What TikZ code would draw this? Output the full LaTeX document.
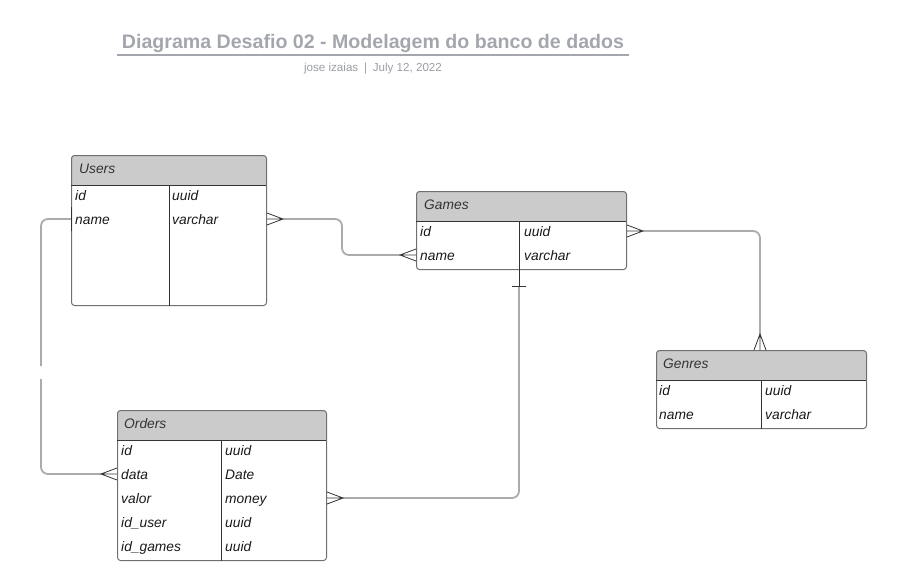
\documentclass[tikz,border=0pt]{standalone}
\usepackage{fontspec}
\setmainfont{Liberation Sans}
\usetikzlibrary{positioning}

\definecolor{titlegray}{HTML}{A3A6AC}
\definecolor{subgray}{HTML}{9A9DA3}
\definecolor{headfill}{HTML}{CBCBCB}
\definecolor{boxline}{HTML}{707070}
\definecolor{sepline}{HTML}{333333}
\definecolor{relline}{HTML}{ABABAB}
\definecolor{footline}{HTML}{333333}

\tikzset{
  entity/.style={draw=boxline, line width=1pt, rounded corners=3pt, inner sep=0pt},
  headbox/.style={fill=headfill, rounded corners=3pt, inner sep=0pt, minimum height=30},
  sep/.style={draw=sepline, line width=0.8pt},
  tabname/.style={font=\itshape\fontsize{13.8}{16}\selectfont, text=black!80, anchor=west, inner sep=0pt, text height=12, text depth=1},
  field/.style={font=\itshape\fontsize{13.8}{16}\selectfont, text=black!90, anchor=west, inner sep=0pt, text height=12, text depth=1},
  rel/.style={draw=relline, line width=1.8pt, rounded corners=7pt},
  crow/.style={draw=footline, line width=0.8pt},
}

% crow's foot: toes at #1, heel at #2, toes spread along #3
\newcommand{\crowfoot}[3]{\draw[crow] ([#3=6]#1) -- (#2) -- ([#3=-6]#1) (#1) -- (#2);}

\begin{document}
\begin{tikzpicture}[x=1pt, y=-1pt]
    \useasboundingbox (0,0) rectangle (901,581);

    % title
    \node[font=\bfseries\fontsize{19.6}{22}\selectfont, text=titlegray] (title) at (373,43.5) {Diagrama Desafio 02 - Modelagem do banco de dados};
    \draw[titlegray, line width=1.6pt] (117,55) -- (629,55);
    \node[font=\fontsize{11.6}{13}\selectfont, text=subgray] (author) at (373,69) {jose izaias\enspace|\enspace July 12, 2022};

    % Users
    \node[headbox, minimum width=195, anchor=north west] (users_h) at (71,155) {};
    \fill[headfill] ([yshift=4]users_h.south west) rectangle (users_h.south east);
    \node[entity, minimum width=195, minimum height=150, anchor=north west] (users) at (71,155) {};
    \draw[sep] (users_h.south west) -- (users_h.south east);
    \draw[sep] (users_h.south -| 169,0) -- (users.south -| 169,0);
    \node[tabname] (users_t) at (79,168) {Users};
    \node[field] at (75,195) {id};
    \node[field] at (172,195) {uuid};
    \node[field] at (75,219) {name};
    \node[field] at (172,219) {varchar};

    % Games
    \node[headbox, minimum width=210, anchor=north west] (games_h) at (416,191) {};
    \fill[headfill] ([yshift=4]games_h.south west) rectangle (games_h.south east);
    \node[entity, minimum width=210, minimum height=78, anchor=north west] (games) at (416,191) {};
    \draw[sep] (games_h.south west) -- (games_h.south east);
    \draw[sep] (games_h.south -| 519,0) -- (games.south -| 519,0);
    \node[tabname] (games_t) at (424,204) {Games};
    \node[field] at (420,231) {id};
    \node[field] at (524,231) {uuid};
    \node[field] at (420,255) {name};
    \node[field] at (524,255) {varchar};

    % Genres
    \node[headbox, minimum width=210, anchor=north west] (genres_h) at (656,350) {};
    \fill[headfill] ([yshift=4]genres_h.south west) rectangle (genres_h.south east);
    \node[entity, minimum width=210, minimum height=78, anchor=north west] (genres) at (656,350) {};
    \draw[sep] (genres_h.south west) -- (genres_h.south east);
    \draw[sep] (genres_h.south -| 761,0) -- (genres.south -| 761,0);
    \node[tabname] (genres_t) at (663,363) {Genres};
    \node[field] at (659,390) {id};
    \node[field] at (765,390) {uuid};
    \node[field] at (659,414) {name};
    \node[field] at (765,414) {varchar};

    % Orders
    \node[headbox, minimum width=209, anchor=north west] (orders_h) at (117,410) {};
    \fill[headfill] ([yshift=4]orders_h.south west) rectangle (orders_h.south east);
    \node[entity, minimum width=209, minimum height=150, anchor=north west] (orders) at (117,410) {};
    \draw[sep] (orders_h.south west) -- (orders_h.south east);
    \draw[sep] (orders_h.south -| 221,0) -- (orders.south -| 221,0);
    \node[tabname] (orders_t) at (124,423) {Orders};
    \node[field] at (121,450) {id};
    \node[field] at (225,450) {uuid};
    \node[field] at (121,474) {data};
    \node[field] at (225,474) {Date};
    \node[field] at (121,498) {valor};
    \node[field] at (225,498) {money};
    \node[field] at (121,522) {id\_user};
    \node[field] at (225,522) {uuid};
    \node[field] at (121,546) {id\_games};
    \node[field] at (225,546) {uuid};

    % connection points
    \coordinate (users_r) at (users.east |- 0,219);
    \coordinate (users_l) at (users.west |- 0,219);
    \coordinate (games_l) at (games.west |- 0,255);
    \coordinate (games_r) at (games.east |- 0,231);
    \coordinate (games_b) at (games.south -| 519,0);
    \coordinate (genres_t) at (genres.north -| 760,0);
    \coordinate (orders_l) at (orders.west |- 0,474);
    \coordinate (orders_r) at (orders.east |- 0,498);

    % Users -- Games
    \draw[rel] ([xshift=16]users_r) -- ++(59,0) |- ([xshift=-16]games_l);
    \crowfoot{users_r}{[xshift=16]users_r}{yshift}
    \crowfoot{games_l}{[xshift=-16]games_l}{yshift}

    % Games -- Genres
    \draw[rel] ([xshift=16]games_r) -| ([yshift=16]genres_t);
    \crowfoot{games_r}{[xshift=16]games_r}{yshift}
    \crowfoot{genres_t}{[yshift=16]genres_t}{xshift}

    % Games -- Orders
    \draw[rel] ([yshift=-16]games_b) |- ([xshift=16]orders_r);
    \draw[crow] (games_b) -- ([yshift=-16]games_b);
    \draw[crow] ([xshift=-7,yshift=-16]games_b) -- ([xshift=7,yshift=-16]games_b);
    \crowfoot{orders_r}{[xshift=16]orders_r}{yshift}

    % Users -- Orders
    \draw[rel] (users_l) -- ++(-30,0) -- ++(0,147) ++(0,13) -- ++(0,95) -- ([xshift=-16]orders_l);
    \draw[crow] ([yshift=12]users_l) -- ([yshift=-12]users_l);
    \crowfoot{orders_l}{[xshift=-16]orders_l}{yshift}

\end{tikzpicture}
\end{document}
